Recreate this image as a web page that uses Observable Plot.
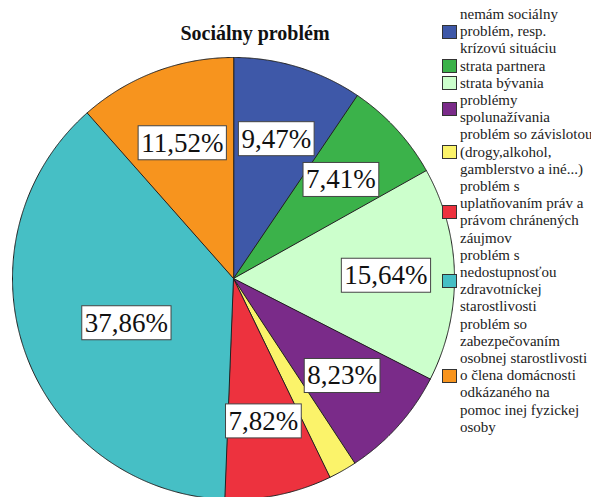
<!DOCTYPE html>
<html><head><meta charset="utf-8">
<script src="https://cdn.jsdelivr.net/npm/d3@7"></script>
<script src="https://cdn.jsdelivr.net/npm/@observablehq/plot@0.6"></script>
<style>
body{margin:0;background:#fff;}
#wrap{position:relative;width:591px;height:497px;overflow:hidden;background:#fff;}
#chart{position:absolute;left:0;top:0;}
#title{position:absolute;left:155px;width:200px;top:22px;text-align:center;font-family:"Liberation Serif","Times New Roman",Times,serif;font-weight:bold;font-size:20px;line-height:22px;color:#111;}
#legend{position:absolute;left:442px;top:6px;font-family:"Liberation Serif","Times New Roman",Times,serif;font-size:15px;line-height:17.2px;color:#222;}
.item{display:flex;align-items:center;}
.sw{width:13px;height:12px;border:1px solid #333;margin-right:3px;flex:none;}
.lab{white-space:pre;}
</style></head>
<body>
<div id="wrap">
  <div id="chart"></div>
  <div id="title">Sociálny problém</div>
  <div id="legend"></div>
</div>
<script>
const categories = [
  "nemám sociálny\nproblém, resp.\nkrízovú situáciu",
  "strata partnera",
  "strata bývania",
  "problémy\nspolunažívania",
  "problém so závislotou\n(drogy,alkohol,\ngamblerstvo a iné...)",
  "problém s\nuplatňovaním práv a\nprávom chránených\nzáujmov",
  "problém s\nnedostupnosťou\nzdravotníckej\nstarostlivosti",
  "problém so\nzabezpečovaním\nosobnej starostlivosti\no člena domácnosti\nodkázaného na\npomoc inej fyzickej\nosoby"
];
const values = [9.47, 7.41, 15.64, 8.23, 2.06, 7.82, 37.86, 11.52];
const colors = ["#3e58a8", "#3bb24a", "#ccffcc", "#7a2b89", "#fbf36a", "#ed323e", "#46bfc5", "#f7941e"];

// label layout (radius as fraction of pie radius), not data
const labelRadius = [0.66, 0.66, 0.69, 0.66, 0.66, 0.66, 0.525, 0.655];
const labelAngleShift = [0, 0, 0, 0, 0, 0, -3, 0]; // degrees

const serif = '"Liberation Serif","Times New Roman",Times,serif';

const rows = categories.map((c, i) => ({category: c, value: values[i], i}));
const arcs = d3.pie().sort(null).value(d => d.value)(rows);

const pts = [];
for (const a of arcs) {
  const cat = a.data.category;
  pts.push({category: cat, x: 0, y: 0});
  const n = Math.max(2, Math.ceil((a.endAngle - a.startAngle) / 0.005));
  for (let k = 0; k <= n; k++) {
    const t = a.startAngle + (a.endAngle - a.startAngle) * k / n;
    pts.push({category: cat, x: Math.sin(t), y: Math.cos(t)});
  }
}

const fmt = v => v.toFixed(2).replace(".", ",") + "%";
const labels = arcs.filter(a => a.data.value >= 5).map(a => {
  const i = a.data.i;
  const m = (a.startAngle + a.endAngle) / 2 + labelAngleShift[i] * Math.PI / 180;
  const r = labelRadius[i];
  return {x: r * Math.sin(m), y: r * Math.cos(m), text: fmt(a.data.value)};
});

const plot = Plot.plot({
  width: 591, height: 497, margin: 0,
  x: {domain: [-1, 1], range: [12, 454], axis: null},
  y: {domain: [-1, 1], range: [499, 57], axis: null},
  color: {domain: categories, range: colors},
  style: {background: "transparent", overflow: "visible"},
  marks: [
    Plot.line(pts, {x: "x", y: "y", z: "category", fill: "category", stroke: "#222", strokeWidth: 1, curve: "linear-closed"}),
    Plot.text(labels, {x: "x", y: "y", text: "text", fontSize: 27, fontFamily: serif, fill: "#111", className: "pielabel"})
  ]
});
document.getElementById("chart").appendChild(plot);

d3.select(plot).selectAll("g.pielabel text").each(function() {
  const b = this.getBBox();
  const cy = b.y + b.height / 2;
  const rect = d3.select(this.parentNode).insert("rect", () => this)
    .attr("x", b.x - 3).attr("y", cy - 17)
    .attr("width", b.width + 6).attr("height", 34)
    .attr("fill", "#fff").attr("stroke", "#444").attr("stroke-width", 1);
  const tr = this.getAttribute("transform");
  if (tr) rect.attr("transform", tr);
});

const legend = d3.select("#legend");
categories.forEach((c, i) => {
  const it = legend.append("div").attr("class", "item");
  it.append("div").attr("class", "sw").style("background", colors[i]);
  it.append("div").attr("class", "lab").text(c);
});
</script>
</body></html>
